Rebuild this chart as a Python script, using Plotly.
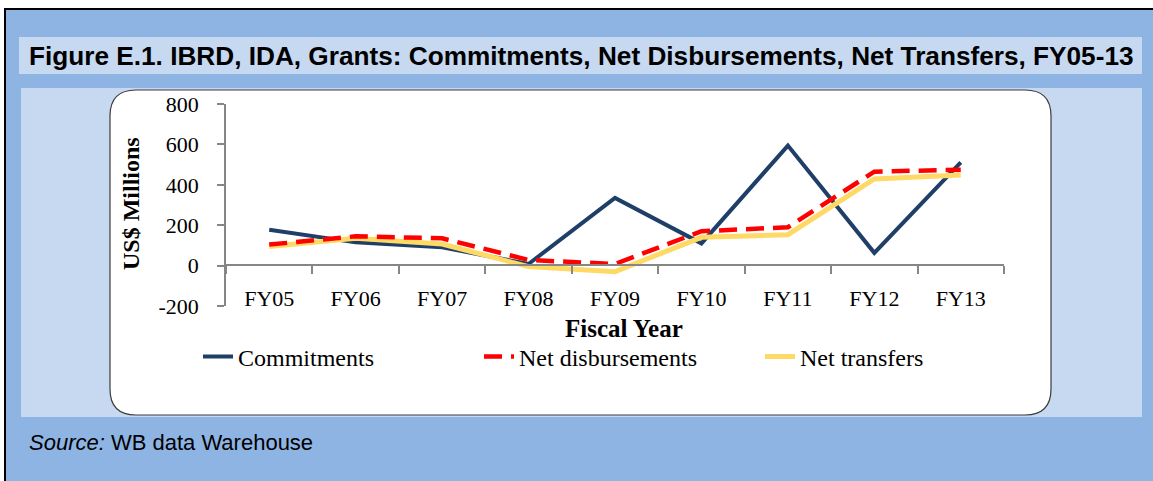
import plotly.graph_objects as go

# ---------------- data ----------------
years = ["FY05", "FY06", "FY07", "FY08", "FY09", "FY10", "FY11", "FY12", "FY13"]
commitments = [177, 115, 91, 8, 335, 110, 594, 63, 511]
net_disbursements = [104, 145, 135, 28, 8, 170, 190, 465, 475]
net_transfers = [94, 135, 107, -5, -30, 140, 153, 429, 449]
y_ticks = [-200, 0, 200, 400, 600, 800]

# ---------------- geometry helpers ----------------
W, H = 1153, 481
L, R, T, B = 226, 1004, 104, 306


def px(p):
    return (p - L) / (R - L)


def py(p):
    return (B - p) / (B - T)


def rounded_path(x0, y0, x1, y1, r):
    pts = [
        f"M {px(x0 + r)},{py(y0)}",
        f"L {px(x1 - r)},{py(y0)}",
        f"Q {px(x1)},{py(y0)} {px(x1)},{py(y0 + r)}",
        f"L {px(x1)},{py(y1 - r)}",
        f"Q {px(x1)},{py(y1)} {px(x1 - r)},{py(y1)}",
        f"L {px(x0 + r)},{py(y1)}",
        f"Q {px(x0)},{py(y1)} {px(x0)},{py(y1 - r)}",
        f"L {px(x0)},{py(y0 + r)}",
        f"Q {px(x0)},{py(y0)} {px(x0 + r)},{py(y0)}",
        "Z",
    ]
    return " ".join(pts)


SERIF = "Liberation Serif, Times New Roman, serif"
SANS = "Liberation Sans Narrow, Arial Narrow, Liberation Sans, Arial, sans-serif"

fig = go.Figure()
fig.add_trace(go.Scatter(x=years, y=commitments, mode="lines", name="Commitments",
                         line=dict(color="#1F3F68", width=4), legendrank=1))
fig.add_trace(go.Scatter(x=years, y=net_transfers, mode="lines", name="Net transfers",
                         line=dict(color="#FFD966", width=5), legendrank=3))
fig.add_trace(go.Scatter(x=years, y=net_disbursements, mode="lines", name="Net disbursements",
                         line=dict(color="#FF0000", width=4.5, dash="18px,9px"), legendrank=2))

shapes = [
    # outer blue frame
    dict(type="rect", xref="paper", yref="paper", layer="below",
         x0=px(5), x1=px(1170), y0=py(9), y1=py(500),
         fillcolor="#8EB4E3", line=dict(color="#000000", width=2)),
    # title band
    dict(type="rect", xref="paper", yref="paper", layer="below",
         x0=px(19), x1=px(1142), y0=py(37), y1=py(74),
         fillcolor="#C6D9F1", line=dict(width=0)),
    # chart panel
    dict(type="rect", xref="paper", yref="paper", layer="below",
         x0=px(21), x1=px(1142), y0=py(88), y1=py(417),
         fillcolor="#C6D9F1", line=dict(width=0)),
    # white rounded chart area
    dict(type="path", xref="paper", yref="paper", layer="below",
         path=rounded_path(110, 90, 1051, 415, 26),
         fillcolor="#FFFFFF", line=dict(color="#3A3A3A", width=1.2)),
]

annotations = [
    dict(text="<b>Figure E.1. IBRD, IDA, Grants: Commitments, Net Disbursements, Net Transfers, FY05-13</b>",
         xref="paper", yref="paper", x=px(27), y=py(56), xanchor="left", yanchor="middle",
         showarrow=False, font=dict(family=SANS, size=26.2, color="#000000")),
    dict(text="<i>Source:</i> WB data Warehouse",
         xref="paper", yref="paper", x=px(27), y=py(442), xanchor="left", yanchor="middle",
         showarrow=False, font=dict(family=SANS, size=22, color="#000000")),
    dict(text="<b>US$ Millions</b>", textangle=-90,
         xref="paper", yref="paper", x=px(131), y=py(204), xanchor="center", yanchor="middle",
         showarrow=False, font=dict(family=SERIF, size=24, color="#000000")),
    dict(text="<b>Fiscal Year</b>",
         xref="paper", yref="paper", x=px(624), y=py(328), xanchor="center", yanchor="middle",
         showarrow=False, font=dict(family=SERIF, size=25, color="#000000")),
]

fig.update_layout(
    width=W, height=H,
    margin=dict(l=L, r=W - R, t=T, b=H - B, autoexpand=False),
    paper_bgcolor="#FFFFFF",
    plot_bgcolor="rgba(0,0,0,0)",
    shapes=shapes,
    annotations=annotations,
    showlegend=True,
    legend=dict(orientation="h", x=px(198), y=py(357), xanchor="left", yanchor="middle",
                bgcolor="rgba(0,0,0,0)", font=dict(family=SERIF, size=24, color="#000000"),
                traceorder="normal", entrywidth=236, entrywidthmode="pixels"),
    xaxis=dict(type="category", range=[-0.5, 8.5], anchor="free", position=py(265),
               showline=True, linecolor="#868686", linewidth=1.5,
               ticks="outside", ticklen=8, tickcolor="#868686", tickwidth=1.5,
               tickson="boundaries", showgrid=False, zeroline=False,
               ticklabelstandoff=14,
               tickfont=dict(family=SERIF, size=22, color="#000000")),
    yaxis=dict(range=[-200, 800], tickvals=y_ticks, ticktext=[str(v) for v in y_ticks],
               showline=True, linecolor="#868686", linewidth=1.5,
               ticks="outside", ticklen=7, tickcolor="#868686", tickwidth=1.5,
               showgrid=False, zeroline=False, ticklabelstandoff=14,
               tickfont=dict(family=SERIF, size=22, color="#000000")),
)

fig.write_html("out.html",
               config={"displayModeBar": False},
               post_script="document.body.style.margin='0px';document.body.style.overflow='hidden';")
